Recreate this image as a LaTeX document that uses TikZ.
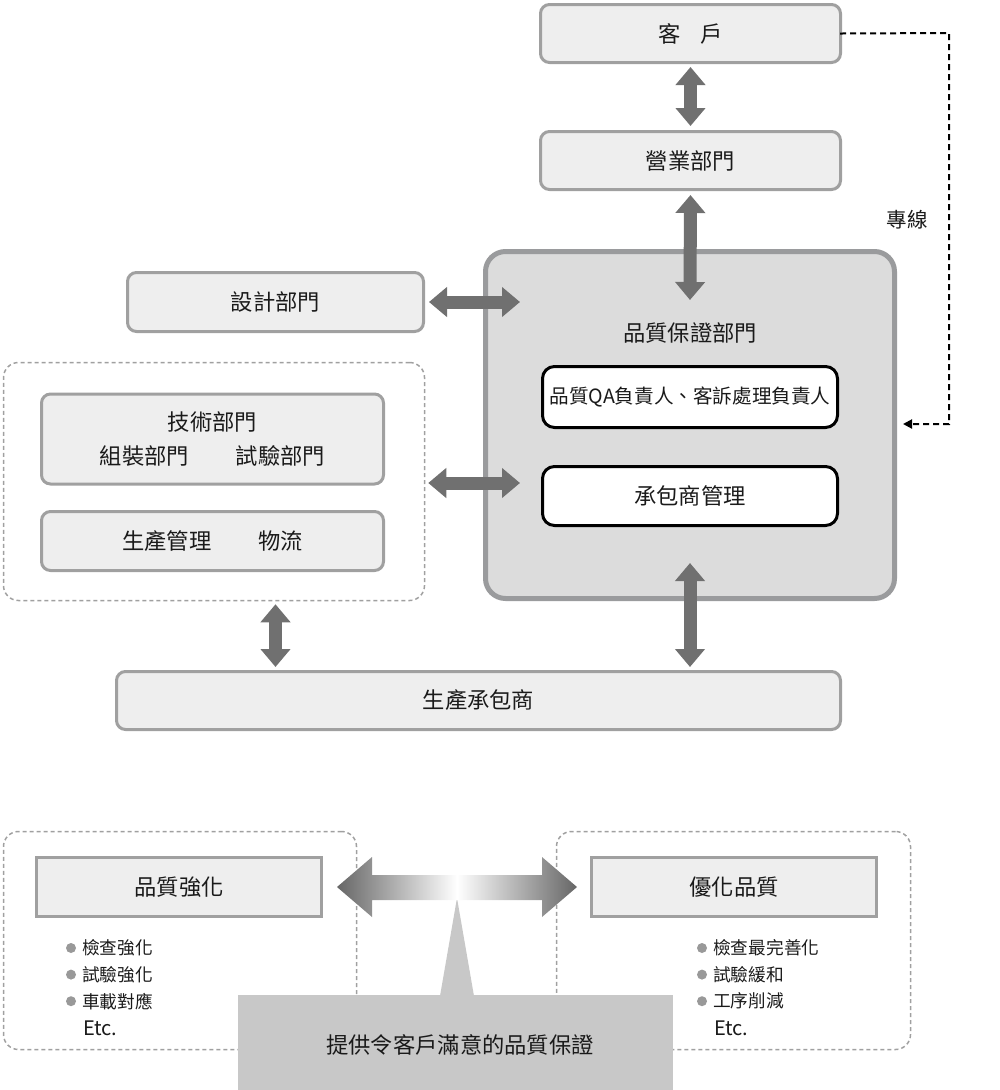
\documentclass[tikz,border=0pt]{standalone}
\usepackage{fontspec}
\setmainfont{Noto Sans CJK TC}
\usetikzlibrary{arrows.meta,calc}
\definecolor{boxfill}{HTML}{EEEEEE}
\definecolor{boxline}{HTML}{A0A0A0}
\definecolor{bigfill}{HTML}{DCDCDC}
\definecolor{bigline}{HTML}{9A9B9D}
\definecolor{arrowgray}{HTML}{707070}
\definecolor{arrowdark}{HTML}{666666}
\definecolor{basegray}{HTML}{C8C8C8}
\definecolor{dashgray}{HTML}{A0A0A0}
\definecolor{dotgray}{HTML}{999999}
\definecolor{txt}{HTML}{1A1A1A}
\begin{document}
\begin{tikzpicture}[x=1pt,y=-1pt,
  font=\fontsize{22.3}{26}\selectfont, text=txt,
  lightbox/.style={draw=boxline,line width=3pt,fill=boxfill,rounded corners=9pt,inner sep=0pt},
  squarebox/.style={draw=boxline,line width=3pt,fill=boxfill,inner sep=0pt},
  whitebox/.style={draw=black,line width=3pt,fill=white,rounded corners=12pt,inner sep=0pt},
  bigbox/.style={draw=bigline,line width=5pt,fill=bigfill,rounded corners=20pt,inner sep=0pt},
  groupbox/.style={draw=dashgray,line width=1.5pt,dash pattern=on 4pt off 3pt,rounded corners=15pt,inner sep=0pt},
  dblarrow/.style={draw=arrowgray,line width=13pt,
    {Triangle[length=18pt,width=29pt]}-{Triangle[length=18pt,width=29pt]}},
  dashline/.style={draw=black,line width=2pt,dash pattern=on 6pt off 4pt,-{Triangle[length=9pt,width=9pt]}},
  label/.style={inner sep=0pt},
  bullettext/.style={inner sep=0pt,anchor=west,font=\fontsize{17.7}{20}\selectfont},
  bulletdot/.style={fill=dotgray,draw=none}
]
\useasboundingbox (0,0) rectangle (1000,1090);

% big QA box
\node[bigbox,minimum width=409pt,minimum height=347pt] (big) at (690,425) {};
\node[label] (bigt) at (690,333) {品質保證部門};
\node[whitebox,minimum width=295pt,minimum height=61pt,font=\fontsize{19.6}{24}\selectfont] (qa) at (690,397) {品質QA負責人、客訴處理負責人};
\node[whitebox,minimum width=295pt,minimum height=59pt] (cb) at (690,496) {承包商管理};

% top boxes
\node[lightbox,minimum width=300pt,minimum height=58pt] (kh) at (690.5,33.5) {客\hspace{0.9em}戶};
\node[lightbox,minimum width=300pt,minimum height=58pt] (yy) at (690.5,160.5) {營業部門};
\node[lightbox,minimum width=296pt,minimum height=59pt] (sj) at (275.5,302) {設計部門};

% left group
\node[groupbox,minimum width=421pt,minimum height=238pt] (lc) at (214,481.5) {};
\node[lightbox,minimum width=342pt,minimum height=90pt,align=center,
  font=\fontsize{22.3}{34}\selectfont] (js) at (212.5,439) {技術部門\\組裝部門\hspace{2.1em}試驗部門};
\node[lightbox,minimum width=342pt,minimum height=59pt] (sc) at (212.5,541) {生產管理\hspace{2.1em}物流};

% contractor
\node[lightbox,minimum width=724pt,minimum height=58pt] (cbs) at (478.5,700.5) {生產承包商};

% arrows
\draw[dblarrow,shorten <=3pt,shorten >=3pt] (kh.south) -- (yy.south |- 0,129);
\coordinate (bigtop) at (690,300);
\draw[dblarrow,shorten <=4pt] (yy.south) -- (bigtop);
\coordinate (bigl1) at (520,302);
\draw[dblarrow,shorten <=4pt] (sj.east) -- (bigl1);
\coordinate (bigl2) at (520,483);
\draw[dblarrow,shorten <=3pt] (lc.east |- bigl2) -- (bigl2);
\draw[dblarrow,shorten <=3pt,shorten >=3pt] (sj.center |- lc.south) -- (sj.center |- cbs.north);
\coordinate (bigbot) at (690,563);
\draw[dblarrow,shorten >=3pt] (bigbot) -- (bigbot |- cbs.north);

% dedicated line
\coordinate (dk) at (949,33);
\draw[dashline,shorten <=-2pt] (kh.east) -- (dk) |- ([xshift=6pt,yshift=1pt]big.east);
\node[label,font=\fontsize{20.5}{24}\selectfont] (zx) at (907,220) {專線};

% bottom part
\node[groupbox,minimum width=353pt,minimum height=218pt] (lcb) at (180,940.5) {};
\node[groupbox,minimum width=354pt,minimum height=218pt] (rcb) at (733.5,940.5) {};
\node[squarebox,minimum width=285pt,minimum height=59pt] (qz) at (179,887) {品質強化};
\node[squarebox,minimum width=285pt,minimum height=59pt] (yh) at (734,887) {優化品質};

% bullets left
\foreach \t [count=\i] in {檢查強化,試驗強化,車載對應}{
  \fill[bulletdot] (71,{948+26.6*(\i-1)}) circle (5pt);
  \node[bullettext] (lb\i) at (82,{948+26.6*(\i-1)}) {\t};
}
\node[bullettext,font=\fontsize{20}{24}\selectfont] (letc) at (83,1028) {Etc.};
% bullets right
\foreach \t [count=\i] in {檢查最完善化,試驗緩和,工序削減}{
  \fill[bulletdot] (702,{948+26.6*(\i-1)}) circle (5pt);
  \node[bullettext] (rb\i) at (713,{948+26.6*(\i-1)}) {\t};
}
\node[bullettext,font=\fontsize{20}{24}\selectfont] (retc) at (714,1028) {Etc.};

% base box and spike
\node[fill=basegray,minimum width=435pt,minimum height=95pt,inner sep=0pt] (ts) at (455.5,1042.5) {};
\node[label] (tst) at (460,1045) {提供令客戶滿意的品質保證};
\fill[basegray] (440,996) -- (457,898) -- (474,996) -- cycle;

% gradient double arrow
\shade[left color=arrowdark,right color=arrowdark,middle color=white]
  (337,887) -- (372,857) -- (372,875) -- (542,875) -- (542,857) -- (577,887)
  -- (542,917) -- (542,900) -- (372,900) -- (372,917) -- cycle;
\end{tikzpicture}
\end{document}
